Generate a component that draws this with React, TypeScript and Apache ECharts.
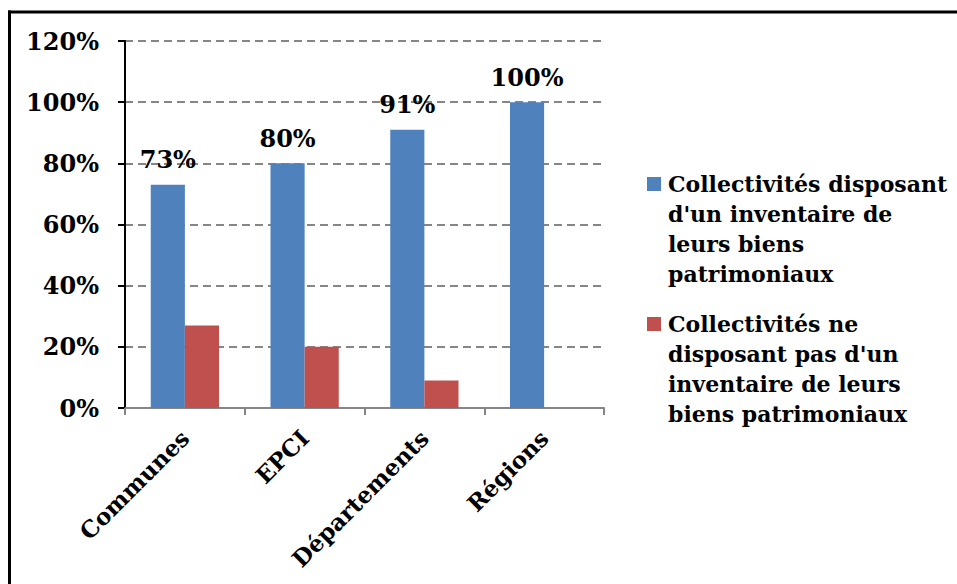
import React, { useEffect, useRef } from "react";
import * as echarts from "echarts";

const categories = ["Communes", "EPCI", "Départements", "Régions"];
const withInventory = [73, 80, 91, 100];
const withoutInventory = [27, 20, 9, 0];
const seriesNames = [
  "Collectivités disposant d'un inventaire de leurs biens patrimoniaux",
  "Collectivités ne disposant pas d'un inventaire de leurs biens patrimoniaux",
];
const legendLines = [
  "Collectivités disposant\nd'un inventaire de\nleurs biens\npatrimoniaux",
  "Collectivités ne\ndisposant pas d'un\ninventaire de leurs\nbiens patrimoniaux",
];
const colors = ["#4F81BD", "#C0504D"];
const FONT = "'DejaVu Serif', serif";

export default function App() {
  const ref = useRef<HTMLDivElement>(null);
  useEffect(() => {
    if (!ref.current) return;
    const chart = echarts.init(ref.current, null, { renderer: "svg" });
    chart.setOption({
      animation: false,
      backgroundColor: "#ffffff",
      grid: { left: 125, right: 353, top: 41, bottom: 176, containLabel: false },
      legend: { show: false },
      xAxis: {
        type: "category",
        data: categories,
        axisLine: { show: true, lineStyle: { color: "#868686", width: 2 } },
        axisTick: { show: true, length: 7, lineStyle: { color: "#868686", width: 2 } },
        axisLabel: {
          rotate: 45,
          margin: 26,
          color: "#000",
          fontFamily: FONT,
          fontWeight: "bold",
          fontSize: 23,
        },
      },
      yAxis: {
        type: "value",
        min: 0,
        max: 120,
        interval: 20,
        axisLine: { show: true, lineStyle: { color: "#000", width: 2 } },
        axisTick: { show: true, length: 7, lineStyle: { color: "#000", width: 2 } },
        axisLabel: {
          margin: 26,
          color: "#000",
          fontFamily: FONT,
          fontWeight: "bold",
          fontSize: 24,
          formatter: (v: number) => v + "%",
        },
        splitLine: {
          show: true,
          lineStyle: { color: "#868686", width: 2, type: [8, 5] },
        },
      },
      series: [
        {
          name: seriesNames[0],
          type: "bar",
          data: withInventory,
          barGap: "0%",
          barCategoryGap: "43%",
          itemStyle: { color: colors[0] },
          label: {
            show: true,
            position: "top",
            distance: 13,
            color: "#000",
            fontFamily: FONT,
            fontWeight: "bold",
            fontSize: 24,
            formatter: (p: any) => p.value + "%",
          },
        },
        {
          name: seriesNames[1],
          type: "bar",
          data: withoutInventory,
          barGap: "0%",
          barCategoryGap: "43%",
          itemStyle: { color: colors[1] },
        },
      ],
      graphic: [
        { type: "line", shape: { x1: 8, y1: 12, x2: 957, y2: 12 }, style: { stroke: "#000", lineWidth: 3 } },
        { type: "line", shape: { x1: 9.5, y1: 10.5, x2: 9.5, y2: 584 }, style: { stroke: "#000", lineWidth: 3 } },
        { type: "rect", shape: { x: 647, y: 177, width: 14, height: 14 }, style: { fill: colors[0] } },
        { type: "rect", shape: { x: 647, y: 317, width: 14, height: 14 }, style: { fill: colors[1] } },
        {
          type: "text",
          x: 668,
          y: 169,
          style: {
            text: legendLines[0],
            fill: "#000",
            font: `bold 22px ${FONT}`,
            lineHeight: 30,
            verticalAlign: "top",
            align: "left",
          },
        },
        {
          type: "text",
          x: 668,
          y: 309,
          style: {
            text: legendLines[1],
            fill: "#000",
            font: `bold 22px ${FONT}`,
            lineHeight: 30,
            verticalAlign: "top",
            align: "left",
          },
        },
      ],
    });
    return () => chart.dispose();
  }, []);
  return (
    <div
      ref={ref}
      style={{ position: "fixed", left: 0, top: 0, width: 957, height: 584, background: "#fff" }}
    />
  );
}
